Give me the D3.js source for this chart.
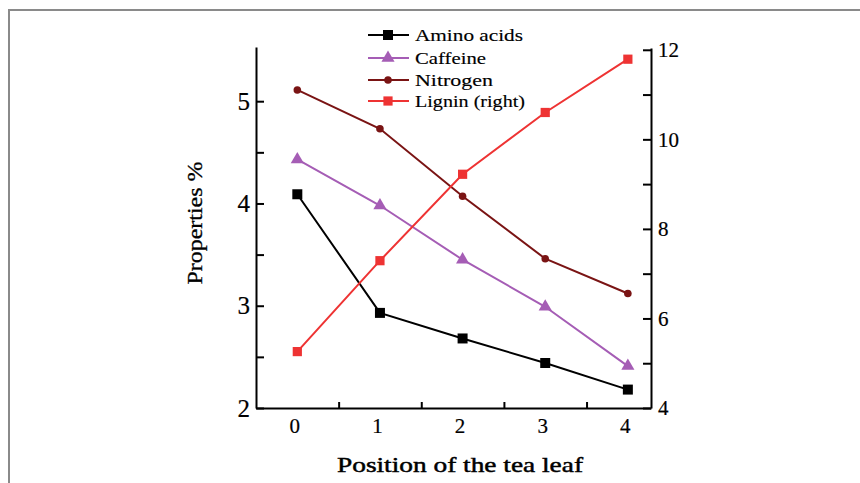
<!DOCTYPE html>
<html>
<head>
<meta charset="utf-8">
<script src="https://cdn.jsdelivr.net/npm/d3@7"></script>
<style>
  html, body { margin: 0; padding: 0; background: #fff; }
  svg { display: block; }
  text { font-family: "Liberation Serif", "Times New Roman", serif; fill: #000; }
</style>
</head>
<body>
<svg id="chart" width="860" height="483"></svg>
<script>
// ---- data ----
const positions = [0, 1, 2, 3, 4];
const aminoAcids = [4.09, 2.93, 2.68, 2.44, 2.18];
const caffeine   = [4.43, 3.98, 3.45, 2.99, 2.41];
const nitrogen   = [5.11, 4.73, 4.07, 3.46, 3.12];
const ligninRight = [5.26, 7.29, 9.22, 10.6, 11.79];
const seriesNames = ["Amino acids", "Caffeine", "Nitrogen", "Lignin (right)"];
const leftTicks  = [2, 2.5, 3, 3.5, 4, 4.5, 5];
const rightTicks = [4, 5, 6, 7, 8, 9, 10, 11, 12];
const xMinorTicks = [0.5, 1.5, 2.5, 3.5];
const xTitle = "Position of the tea leaf";
const yTitle = "Properties %";

const svg = d3.select("#chart");

// frame
svg.append("rect").attr("x", 9).attr("y", 10).attr("width", 870).attr("height", 490)
  .attr("fill", "none").attr("stroke", "#8a8a8a").attr("stroke-width", 2);

const x  = d3.scaleLinear().domain([-0.5, 4.28]).range([256, 651]);
const yL = d3.scaleLinear().domain([2, 5.53]).range([408, 47]);
const yR = d3.scaleLinear().domain([4, 12.04]).range([408, 48]);

function styleAxis(g) {
  g.attr("font-family", null);
  g.selectAll("path.domain").attr("stroke", "#000").attr("stroke-width", 2);
  g.selectAll(".tick line").attr("stroke", "#000").attr("stroke-width", 2);
  g.selectAll("text").attr("fill", "#000").attr("stroke", "#000").attr("stroke-width", 0.2);
}

// left axis
const gL = svg.append("g").attr("transform", "translate(256,0)")
  .call(d3.axisLeft(yL).tickValues(leftTicks).tickSizeInner(-8).tickSizeOuter(0).tickPadding(6)
    .tickFormat(d => Number.isInteger(d) ? d : ""));
styleAxis(gL);
gL.selectAll("text").attr("font-size", 25);

// right axis
const gR = svg.append("g").attr("transform", "translate(651,0)")
  .call(d3.axisRight(yR).tickValues(rightTicks).tickSizeInner(-8).tickSizeOuter(0).tickPadding(7)
    .tickFormat(d => d % 2 === 0 ? d : ""));
styleAxis(gR);
gR.selectAll("text").attr("font-size", 21);

// x axis: minor ticks between categories
const gX = svg.append("g").attr("transform", "translate(0,408)")
  .call(d3.axisBottom(x).tickValues(xMinorTicks).tickSizeInner(-6).tickSizeOuter(0).tickFormat(""));
styleAxis(gX);
// x labels
const gXL = svg.append("g").attr("transform", "translate(-3,408)")
  .call(d3.axisBottom(x).tickValues(positions).tickSize(0).tickPadding(10).tickFormat(d3.format("d")));
gXL.select("path.domain").remove();
styleAxis(gXL);
gXL.selectAll("text").attr("font-size", 21);

// axis titles
svg.append("text").attr("x", 460).attr("y", 472).attr("text-anchor", "middle")
  .attr("font-size", 21).attr("textLength", 246).attr("lengthAdjust", "spacingAndGlyphs")
  .attr("stroke", "#000").attr("stroke-width", 0.45)
  .text(xTitle);
svg.append("text").attr("transform", "translate(202,223) rotate(-90)").attr("text-anchor", "middle")
  .attr("font-size", 21).attr("textLength", 123).attr("lengthAdjust", "spacingAndGlyphs")
  .attr("stroke", "#000").attr("stroke-width", 0.3)
  .text(yTitle);

// series
const series = [
  { name: seriesNames[0], values: aminoAcids, y: yL, color: "#000000", symbol: d3.symbolSquare, size: 100 },
  { name: seriesNames[1], values: caffeine,   y: yL, color: "#a55db5", symbol: d3.symbolTriangle, size: 75 },
  { name: seriesNames[2], values: nitrogen,   y: yL, color: "#7a1414", symbol: d3.symbolCircle, size: 45 },
  { name: seriesNames[3], values: ligninRight, y: yR, color: "#ee3333", symbol: d3.symbolSquare, size: 85 }
];

series.forEach(s => {
  const line = d3.line().x((d, i) => x(positions[i])).y(d => s.y(d));
  svg.append("path").datum(s.values).attr("d", line)
    .attr("fill", "none").attr("stroke", s.color).attr("stroke-width", 2);
  svg.append("g").selectAll("path").data(s.values).join("path")
    .attr("transform", (d, i) => `translate(${x(positions[i])},${s.y(d)})`)
    .attr("d", d3.symbol().type(s.symbol).size(s.size))
    .attr("fill", s.color);
});

// legend
const legendY = [35, 58, 80, 101];
const legendLen = [108, 71, 78, 110];
series.forEach((s, i) => {
  const g = svg.append("g").attr("transform", `translate(0,${legendY[i]})`);
  g.append("line").attr("x1", 368).attr("x2", 409).attr("y1", 0).attr("y2", 0)
    .attr("stroke", s.color).attr("stroke-width", 2);
  g.append("path").attr("transform", "translate(388,0)")
    .attr("d", d3.symbol().type(s.symbol).size(s.size)).attr("fill", s.color);
  g.append("text").attr("x", 415).attr("y", 6).attr("font-size", 17)
    .attr("textLength", legendLen[i]).attr("lengthAdjust", "spacingAndGlyphs")
    .attr("stroke", "#000").attr("stroke-width", 0.15)
    .text(s.name);
});
</script>
</body>
</html>
